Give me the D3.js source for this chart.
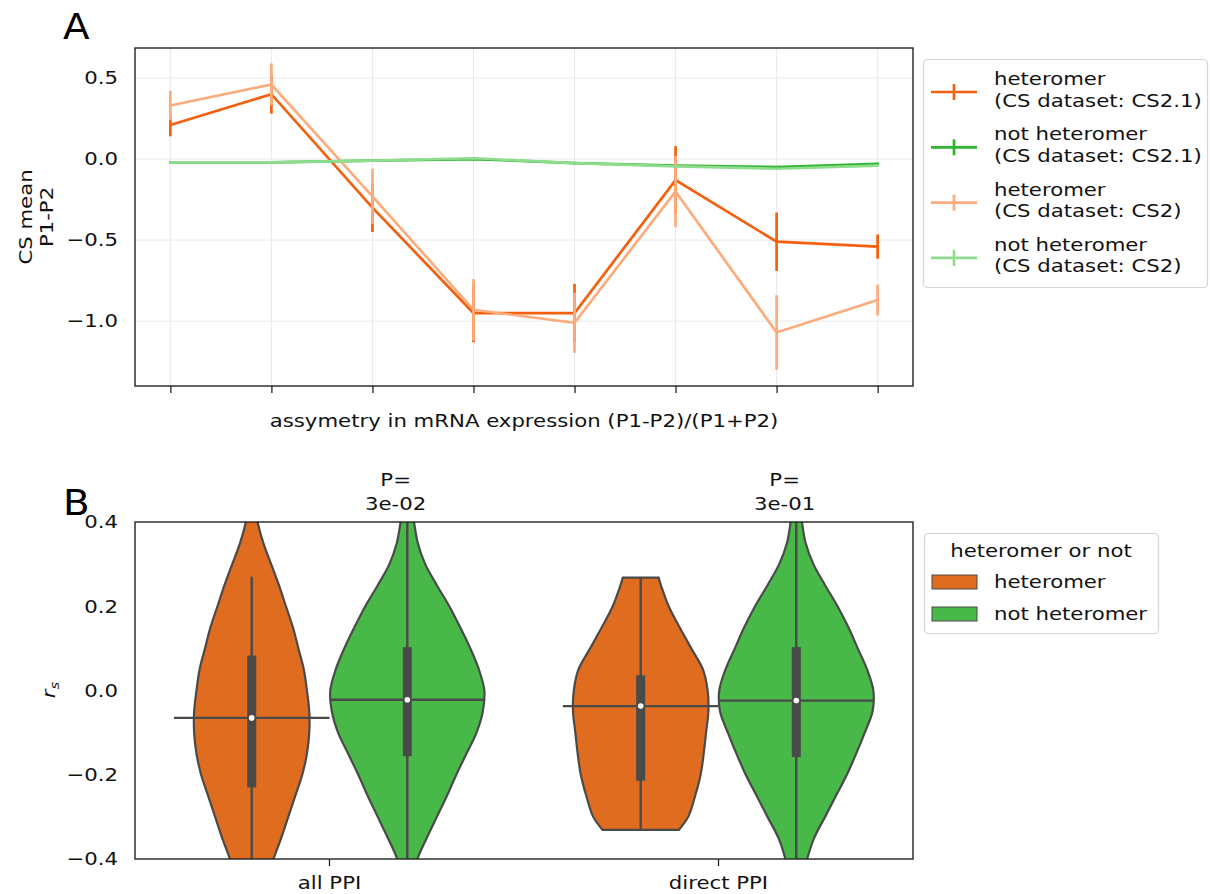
<!DOCTYPE html>
<html>
<head>
<meta charset="utf-8">
<script src="https://cdn.jsdelivr.net/npm/d3@7"></script>
<style>
  body { margin: 0; background: #fff; }
  svg { font-family: "DejaVu Sans", sans-serif; }
</style>
</head>
<body>
<div id="chart"></div>
<script>
// ---- panel A data ----
var bins = [0, 1, 2, 3, 4, 5, 6, 7];
var heteroCS21 = [0.21, 0.40, -0.30, -0.95, -0.95, -0.13, -0.51, -0.54];
var heteroCS21Err = [0.07, 0.12, 0.15, 0.18, 0.18, 0.21, 0.18, 0.075];
var notHeteroCS21 = [-0.02, -0.02, -0.01, 0.00, -0.025, -0.04, -0.05, -0.03];
var notHeteroCS21Err = [0.008, 0.008, 0.008, 0.008, 0.008, 0.008, 0.008, 0.008];
var heteroCS2 = [0.33, 0.46, -0.23, -0.93, -1.01, -0.20, -1.07, -0.87];
var heteroCS2Err = [0.09, 0.13, 0.17, 0.19, 0.185, 0.22, 0.23, 0.095];
var notHeteroCS2 = [-0.02, -0.02, -0.01, 0.005, -0.025, -0.045, -0.06, -0.04];
var notHeteroCS2Err = [0.008, 0.008, 0.008, 0.008, 0.008, 0.008, 0.008, 0.008];
var lineNames = ["heteromer|(CS dataset: CS2.1)", "not heteromer|(CS dataset: CS2.1)",
                 "heteromer|(CS dataset: CS2)", "not heteromer|(CS dataset: CS2)"];
var yTicksA = [-1.0, -0.5, 0.0, 0.5];

// ---- panel B data ----
var categories = ["all PPI", "direct PPI"];
var hues = ["heteromer", "not heteromer"];
var pLabels = ["3e-02", "3e-01"];
var yTicksB = [-0.4, -0.2, 0.0, 0.2, 0.4];
var fullGrid = [0.45, 0.4, 0.35, 0.3, 0.25, 0.2, 0.15, 0.1, 0.05, 0.0, -0.05, -0.1, -0.15, -0.2, -0.25, -0.3, -0.35, -0.4, -0.45];
var cutGrid = [0.268, 0.25, 0.2, 0.15, 0.1, 0.05, 0.0, -0.05, -0.1, -0.15, -0.2, -0.25, -0.3, -0.331];
var densAllHet = [0.03, 0.075, 0.15, 0.25, 0.35, 0.44, 0.53, 0.60, 0.67, 0.71, 0.74, 0.74, 0.71, 0.65, 0.56, 0.47, 0.38, 0.28, 0.19];
var densAllNot = [0.04, 0.086, 0.135, 0.23, 0.38, 0.54, 0.68, 0.81, 0.92, 0.99, 0.97, 0.89, 0.76, 0.63, 0.51, 0.38, 0.25, 0.13, 0.06];
var densDirHet = [0.23, 0.26, 0.36, 0.50, 0.65, 0.80, 0.86, 0.87, 0.84, 0.81, 0.77, 0.70, 0.61, 0.49];
var densDirNot = [0.04, 0.073, 0.12, 0.22, 0.37, 0.53, 0.67, 0.79, 0.91, 0.99, 0.98, 0.88, 0.77, 0.65, 0.51, 0.37, 0.23, 0.14, 0.08];
var medians = [-0.065, -0.022, -0.037, -0.024];
var q1s = [-0.23, -0.156, -0.214, -0.158];
var q3s = [0.083, 0.103, 0.036, 0.103];
var whiskLo = [-0.5, -0.5, -0.331, -0.5];
var whiskHi = [0.27, 0.5, 0.268, 0.5];

var lineColors = ["#f4600e", "#2eb42e", "#fcac7c", "#8fdc8f"];
var violinColors = ["#e06c1f", "#48b848"];
var ink = "#4a4a4a";
var fs = 18, sx = 1.18;   // the picture's text is a bit wider than it is tall

var svg = d3.select("#chart").append("svg")
  .attr("width", 1210)
  .attr("height", 894);

// text helper: place at (x,y), optional rotation, stretched horizontally
function label(g, x, y, str, anchor, rot) {
  return g.append("text")
    .attr("transform", "translate(" + x + "," + y + ")" + (rot ? " rotate(" + rot + ")" : "") + " scale(" + sx + ",1)")
    .attr("text-anchor", anchor || "start")
    .attr("font-size", fs).attr("fill", "#111")
    .text(str);
}
function stretchAxis(ax, pad) {
  ax.selectAll("text")
    .attr("font-size", fs).attr("fill", "#111").attr("font-family", "DejaVu Sans")
    .attr("transform", "scale(" + sx + ",1)");
  if (pad) ax.selectAll("text").attr("x", -pad / sx);
}

// ================= Panel A =================
var xA = d3.scaleLinear().domain([-0.35, 7.35]).range([135, 913]);
var yA = d3.scaleLinear().domain([-1.40, 0.685]).range([386, 48]);

var gA = svg.append("g");

gA.selectAll(".vgrid").data(bins).enter().append("line")
  .attr("x1", function(d) { return xA(d); }).attr("x2", function(d) { return xA(d); })
  .attr("y1", 48).attr("y2", 386)
  .attr("stroke", "#e9e9e9").attr("stroke-width", 1);
gA.selectAll(".hgrid").data(yTicksA).enter().append("line")
  .attr("x1", 135).attr("x2", 913)
  .attr("y1", function(d) { return yA(d); }).attr("y2", function(d) { return yA(d); })
  .attr("stroke", "#e9e9e9").attr("stroke-width", 1);

var series = [
  {mean: heteroCS21, err: heteroCS21Err},
  {mean: notHeteroCS21, err: notHeteroCS21Err},
  {mean: heteroCS2, err: heteroCS2Err},
  {mean: notHeteroCS2, err: notHeteroCS2Err}
];

var lineA = d3.line()
  .x(function(d, i) { return xA(bins[i]); })
  .y(function(d) { return yA(d); });

series.forEach(function(s, k) {
  var g = gA.append("g");
  g.append("path")
    .attr("d", lineA(s.mean))
    .attr("fill", "none")
    .attr("stroke", lineColors[k])
    .attr("stroke-width", 2.7);
  g.selectAll("line").data(s.mean).enter().append("line")
    .attr("x1", function(d, i) { return xA(bins[i]); })
    .attr("x2", function(d, i) { return xA(bins[i]); })
    .attr("y1", function(d, i) { return yA(d - s.err[i]); })
    .attr("y2", function(d, i) { return yA(d + s.err[i]); })
    .attr("stroke", lineColors[k])
    .attr("stroke-width", 2.7);
});

gA.append("rect")
  .attr("x", 135).attr("y", 48).attr("width", 778).attr("height", 338)
  .attr("fill", "none").attr("stroke", "#222").attr("stroke-width", 1.4);

var axAy = gA.append("g").attr("transform", "translate(135,0)")
  .call(d3.axisLeft(yA).tickValues(yTicksA).tickFormat(d3.format(".1f")).tickSize(0));
axAy.select(".domain").remove();
stretchAxis(axAy, 17);

var axAx = gA.append("g").attr("transform", "translate(0,386)")
  .call(d3.axisBottom(xA).tickValues(bins).tickFormat("").tickSize(7));
axAx.select(".domain").remove();
axAx.selectAll("line").attr("stroke", "#222").attr("stroke-width", 1.3);

label(gA, 524, 427, "assymetry in mRNA expression (P1-P2)/(P1+P2)", "middle");
label(gA, 32, 217, "CS mean", "middle", -90);
label(gA, 53, 217, "P1-P2", "middle", -90);

svg.append("text").attr("transform", "translate(63,39) scale(1.08,1)")
  .attr("font-size", 36).attr("fill", "#000").text("A");

// legend A
var legA = svg.append("g");
legA.append("rect").attr("x", 923.5).attr("y", 59.5).attr("width", 284).attr("height", 228)
  .attr("rx", 4).attr("fill", "#fff").attr("stroke", "#d4d4d4").attr("stroke-width", 1.2);
lineNames.forEach(function(name, k) {
  var cy = 92 + k * 55.3;
  legA.append("line").attr("x1", 931).attr("x2", 977).attr("y1", cy).attr("y2", cy)
    .attr("stroke", lineColors[k]).attr("stroke-width", 2.7);
  legA.append("line").attr("x1", 954).attr("x2", 954).attr("y1", cy - 8).attr("y2", cy + 8)
    .attr("stroke", lineColors[k]).attr("stroke-width", 2.7);
  var parts = name.split("|");
  label(legA, 994, cy - 7, parts[0]);
  label(legA, 994, cy + 14.5, parts[1]);
});

// ================= Panel B =================
var x0 = d3.scaleBand().domain(categories).range([135, 913]);
var x1 = d3.scaleBand().domain(hues).range([0, x0.bandwidth()]).paddingOuter(0.25);
var yB = d3.scaleLinear().domain([-0.4, 0.4]).range([859, 522]);
var wB = d3.scaleLinear().domain([0, 1]).range([0, x1.bandwidth() / 2]);

var gB = svg.append("g");
svg.append("clipPath").attr("id", "clipB").append("rect")
  .attr("x", 135).attr("y", 522).attr("width", 778).attr("height", 337);

var violins = [
  {cat: categories[0], hue: hues[0], grid: fullGrid, dens: densAllHet},
  {cat: categories[0], hue: hues[1], grid: fullGrid, dens: densAllNot},
  {cat: categories[1], hue: hues[0], grid: cutGrid, dens: densDirHet},
  {cat: categories[1], hue: hues[1], grid: fullGrid, dens: densDirNot}
];

var plotB = gB.append("g").attr("clip-path", "url(#clipB)");

violins.forEach(function(v, k) {
  var cx = x0(v.cat) + x1(v.hue) + x1.bandwidth() / 2;
  var pts = v.grid.map(function(g, i) { return {y: g, d: v.dens[i]}; });
  var area = d3.area()
    .y(function(p) { return yB(p.y); })
    .x0(function(p) { return cx - wB(p.d); })
    .x1(function(p) { return cx + wB(p.d); })
    .curve(d3.curveCatmullRom);
  plotB.append("path")
    .attr("d", area(pts))
    .attr("fill", violinColors[hues.indexOf(v.hue)])
    .attr("stroke", ink).attr("stroke-width", 2.2);
  // median line across the hue slot
  plotB.append("line")
    .attr("x1", x0(v.cat) + x1(v.hue)).attr("x2", x0(v.cat) + x1(v.hue) + x1.bandwidth())
    .attr("y1", yB(medians[k])).attr("y2", yB(medians[k]))
    .attr("stroke", ink).attr("stroke-width", 2.4);
  // inner box
  plotB.append("line")
    .attr("x1", cx).attr("x2", cx)
    .attr("y1", yB(whiskLo[k])).attr("y2", yB(whiskHi[k]))
    .attr("stroke", ink).attr("stroke-width", 2.4);
  plotB.append("rect")
    .attr("x", cx - 4.5).attr("width", 9)
    .attr("y", yB(q3s[k])).attr("height", yB(q1s[k]) - yB(q3s[k]))
    .attr("fill", ink);
  plotB.append("circle")
    .attr("cx", cx).attr("cy", yB(medians[k])).attr("r", 2.8)
    .attr("fill", "#fff");
});

gB.append("rect")
  .attr("x", 135).attr("y", 522).attr("width", 778).attr("height", 337)
  .attr("fill", "none").attr("stroke", "#222").attr("stroke-width", 1.4);

var axBy = gB.append("g").attr("transform", "translate(135,0)")
  .call(d3.axisLeft(yB).tickValues(yTicksB).tickFormat(d3.format(".1f")).tickSize(0));
axBy.select(".domain").remove();
stretchAxis(axBy, 17);

var axBx = gB.append("g").attr("transform", "translate(0,859)")
  .call(d3.axisBottom(x0).tickSize(7).tickPadding(10));
axBx.select(".domain").remove();
axBx.selectAll("line").attr("stroke", "#222").attr("stroke-width", 1.3);
stretchAxis(axBx);

categories.forEach(function(c, i) {
  var px = x0(c) + x0.bandwidth() * 0.67;
  label(gB, px, 486, "P=", "middle");
  label(gB, px, 510, pLabels[i], "middle");
});

var rs = gB.append("text").attr("transform", "translate(55,690) rotate(-90) scale(" + sx + ",1)")
  .attr("text-anchor", "middle").attr("font-size", fs).attr("fill", "#111")
  .attr("font-style", "italic");
rs.append("tspan").text("r");
rs.append("tspan").attr("font-size", 12.5).attr("dy", 4).text("s");

svg.append("text").attr("transform", "translate(63,515) scale(1.08,1)")
  .attr("font-size", 36).attr("fill", "#000").text("B");

// legend B
var legB = svg.append("g");
legB.append("rect").attr("x", 924.5).attr("y", 533.5).attr("width", 234).attr("height", 100)
  .attr("rx", 4).attr("fill", "#fff").attr("stroke", "#d4d4d4").attr("stroke-width", 1.2);
label(legB, 1041, 557, "heteromer or not", "middle");
hues.forEach(function(h, k) {
  var cy = 582 + k * 32;
  legB.append("rect").attr("x", 932).attr("y", cy - 7).attr("width", 45).attr("height", 14)
    .attr("fill", violinColors[k]).attr("stroke", ink).attr("stroke-width", 1);
  label(legB, 994, cy + 6, h);
});
</script>
</body>
</html>
